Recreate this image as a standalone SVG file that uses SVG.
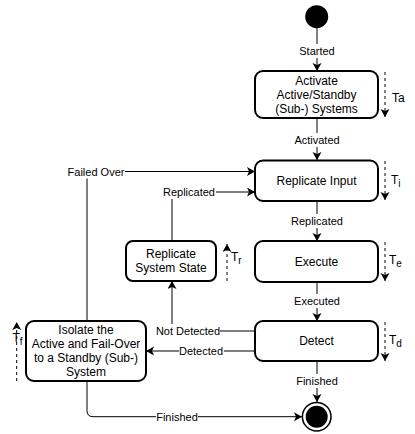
<svg xmlns="http://www.w3.org/2000/svg" width="415" height="434" viewBox="0 0 415 434">
<defs>
<marker id="arr" markerUnits="userSpaceOnUse" markerWidth="10" markerHeight="10" refX="8" refY="4.5" orient="auto">
<path d="M0,0 L8,4.5 L0,9 L2,4.5 Z" fill="#000"/>
</marker>
</defs>
<style>
.box{fill:#fff;stroke:#000;stroke-width:2}
.edge{fill:none;stroke:#000;stroke-width:1}
.dash{fill:none;stroke:#000;stroke-width:1;stroke-dasharray:3 3}
.t{font-family:"Liberation Sans",Arial,sans-serif;font-size:12px;text-anchor:middle;fill:#000}
.l{font-family:"Liberation Sans",Arial,sans-serif;font-size:11px;text-anchor:middle;fill:#000}
.tm{font-family:"Liberation Sans",Arial,sans-serif;font-size:12px;fill:#000}
.sub{font-size:10px}
.bg{fill:#fff}
</style>
<rect width="415" height="434" fill="#fff"/>
<g id="connectors">
<line class="edge" x1="317" y1="28" x2="317" y2="71" marker-end="url(#arr)"/>
<line class="edge" x1="317" y1="118" x2="317" y2="160" marker-end="url(#arr)"/>
<line class="edge" x1="317" y1="201" x2="317" y2="241" marker-end="url(#arr)"/>
<line class="edge" x1="317" y1="282" x2="317" y2="321" marker-end="url(#arr)"/>
<line class="edge" x1="317" y1="361" x2="317" y2="402" marker-end="url(#arr)"/>
<path class="edge" d="M87,321 V171.5 H255" marker-end="url(#arr)"/>
<path class="edge" d="M172,241 V192 H255" marker-end="url(#arr)"/>
<path class="edge" d="M255,331 H172 V281" marker-end="url(#arr)"/>
<path class="edge" d="M255,351 H146" marker-end="url(#arr)"/>
<path class="edge" d="M87,381 V410.7 Q87,416.7 93,416.7 H302" marker-end="url(#arr)"/>
<g id="edge-labels">
<rect class="bg" x="298" y="44" width="38" height="14"/><text class="l" x="317" y="55">Started</text>
<rect class="bg" x="294" y="133" width="46" height="14"/><text class="l" x="317" y="144">Activated</text>
<rect class="bg" x="290" y="214" width="54" height="14"/><text class="l" x="317" y="225">Replicated</text>
<rect class="bg" x="294" y="294" width="46" height="14"/><text class="l" x="317" y="305">Executed</text>
<rect class="bg" x="296" y="374" width="42" height="14"/><text class="l" x="317" y="385">Finished</text>
<rect class="bg" x="67" y="164.5" width="58" height="14"/><text class="l" x="96" y="175.5">Failed Over</text>
<rect class="bg" x="162" y="185" width="54" height="14"/><text class="l" x="189" y="196">Replicated</text>
<rect class="bg" x="156" y="324" width="64" height="14"/><text class="l" x="188" y="335">Not Detected</text>
<rect class="bg" x="179" y="344" width="45" height="14"/><text class="l" x="201" y="355">Detected</text>
<rect class="bg" x="156" y="409.7" width="42" height="14"/><text class="l" x="177" y="420.7">Finished</text>
</g>
</g>
<g id="start">
<circle cx="316.7" cy="16.7" r="11.5" fill="#000"/>
</g>
<g id="activate">
<rect class="box" x="255" y="71" width="123" height="47" rx="8"/>
<text class="t" x="316.5" y="84.5">Activate</text>
<text class="t" x="316.5" y="98.5">Active/Standby</text>
<text class="t" x="316.5" y="112.5">(Sub-) Systems</text>
<line class="dash" x1="385" y1="72" x2="385" y2="117" marker-end="url(#arr)"/>
<text class="tm" x="392" y="102">Ta</text>
</g>
<g id="replicate-input">
<rect class="box" x="255" y="160.5" width="123" height="40.5" rx="8"/>
<text class="t" x="316.5" y="185">Replicate Input</text>
<line class="dash" x1="385" y1="161" x2="385" y2="200" marker-end="url(#arr)"/>
<text class="tm" x="391" y="184">T<tspan class="sub" dy="3">i</tspan></text>
</g>
<g id="execute">
<rect class="box" x="255" y="241" width="123" height="41" rx="8"/>
<text class="t" x="316.5" y="265.5">Execute</text>
<line class="dash" x1="385" y1="242" x2="385" y2="281" marker-end="url(#arr)"/>
<text class="tm" x="389" y="264">T<tspan class="sub" dy="3">e</tspan></text>
</g>
<g id="detect">
<rect class="box" x="255" y="321" width="123" height="40" rx="8"/>
<text class="t" x="316.5" y="345">Detect</text>
<line class="dash" x1="385" y1="322" x2="385" y2="361" marker-end="url(#arr)"/>
<text class="tm" x="389" y="344">T<tspan class="sub" dy="3">d</tspan></text>
</g>
<g id="replicate-system-state">
<rect class="box" x="126" y="241" width="90" height="40" rx="7"/>
<text class="t" x="171" y="258">Replicate</text>
<text class="t" x="171" y="272">System State</text>
<line class="dash" x1="227" y1="281" x2="227" y2="244" marker-end="url(#arr)"/>
<text class="tm" x="231" y="261">T<tspan class="sub" dy="3">r</tspan></text>
</g>
<g id="isolate">
<rect class="box" x="26" y="321" width="120" height="60" rx="8"/>
<text class="t" x="86" y="334">Isolate the</text>
<text class="t" x="86" y="348">Active and Fail-Over</text>
<text class="t" x="86" y="362">to a Standby (Sub-)</text>
<text class="t" x="86" y="376">System</text>
<line class="dash" x1="16.7" y1="381" x2="16.7" y2="322" marker-end="url(#arr)"/>
<text class="tm" x="12.5" y="342">T<tspan class="sub" dy="3">f</tspan></text>
</g>
<g id="end">
<circle cx="316.7" cy="416.7" r="14.3" fill="#fff" stroke="#000" stroke-width="1.5"/>
<circle cx="316.7" cy="416.7" r="11" fill="#000"/>
</g>
</svg>
